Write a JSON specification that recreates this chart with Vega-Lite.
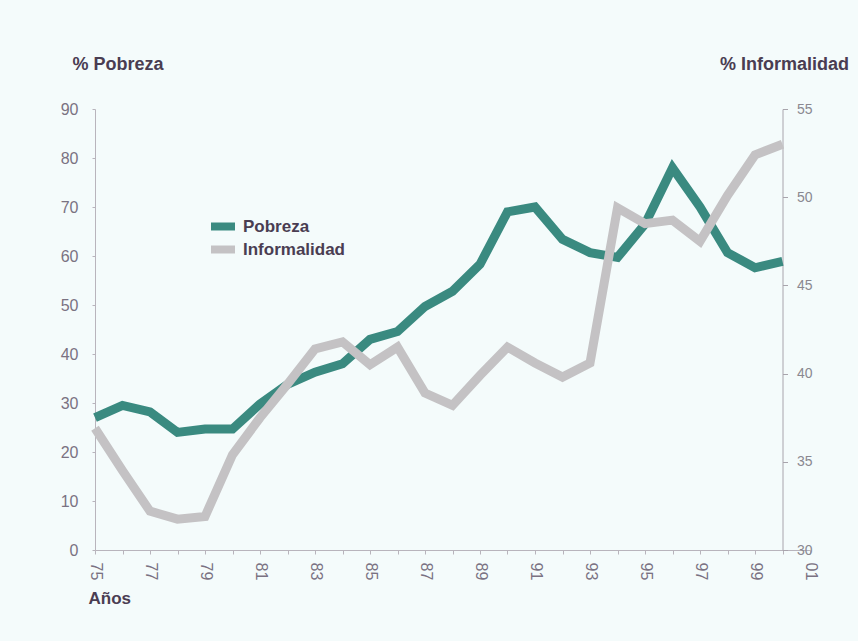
{
  "$schema": "https://vega.github.io/schema/vega-lite/v6.json",
  "autosize": "none",
  "width": 715,
  "height": 441,
  "padding": {"left": 95, "top": 109, "right": 48, "bottom": 91},
  "background": "#f4fbfb",
  "config": {
    "view": {"stroke": null},
    "font": "Liberation Sans",
    "axis": {"grid": false, "labelFlush": false, "labelOverlap": false}
  },
  "data": {
    "values": [
      {"year": 1975, "pobreza": 27.0, "informalidad": 36.9},
      {"year": 1976, "pobreza": 29.5, "informalidad": 34.5},
      {"year": 1977, "pobreza": 28.2, "informalidad": 32.2},
      {"year": 1978, "pobreza": 24.0, "informalidad": 31.75},
      {"year": 1979, "pobreza": 24.7, "informalidad": 31.9},
      {"year": 1980, "pobreza": 24.7, "informalidad": 35.4},
      {"year": 1981, "pobreza": 29.8, "informalidad": 37.5},
      {"year": 1982, "pobreza": 33.8, "informalidad": 39.4},
      {"year": 1983, "pobreza": 36.3, "informalidad": 41.4},
      {"year": 1984, "pobreza": 38.0, "informalidad": 41.8},
      {"year": 1985, "pobreza": 43.0, "informalidad": 40.5},
      {"year": 1986, "pobreza": 44.6, "informalidad": 41.5},
      {"year": 1987, "pobreza": 49.7, "informalidad": 38.9},
      {"year": 1988, "pobreza": 52.8, "informalidad": 38.2},
      {"year": 1989, "pobreza": 58.3, "informalidad": 39.9},
      {"year": 1990, "pobreza": 69.0, "informalidad": 41.5},
      {"year": 1991, "pobreza": 70.0, "informalidad": 40.6},
      {"year": 1992, "pobreza": 63.4, "informalidad": 39.8},
      {"year": 1993, "pobreza": 60.7, "informalidad": 40.6},
      {"year": 1994, "pobreza": 59.7, "informalidad": 49.4},
      {"year": 1995, "pobreza": 66.5, "informalidad": 48.5},
      {"year": 1996, "pobreza": 78.0, "informalidad": 48.7},
      {"year": 1997, "pobreza": 70.0, "informalidad": 47.5},
      {"year": 1998, "pobreza": 60.7, "informalidad": 50.1},
      {"year": 1999, "pobreza": 57.6, "informalidad": 52.4},
      {"year": 2000, "pobreza": 58.9, "informalidad": 53.0}
    ]
  },
  "encoding": {
    "x": {
      "field": "year",
      "type": "quantitative",
      "scale": {"domain": [1975, 2001], "nice": false, "zero": false},
      "axis": {
        "title": "Años",
        "titleFont": "Liberation Sans",
        "titleFontSize": 17,
        "titleFontWeight": "bold",
        "titleColor": "#4a3d52",
        "titleAlign": "left",
        "titleAnchor": "start",
        "titleX": -7,
        "titleY": 53,
        "titleBaseline": "alphabetic",
        "values": [1975,1976,1977,1978,1979,1980,1981,1982,1983,1984,1985,1986,1987,1988,1989,1990,1991,1992,1993,1994,1995,1996,1997,1998,1999,2000,2001],
        "labelExpr": "datum.value % 2 == 1 ? substring(toString(datum.value), 2) : ''",
        "labelAngle": 90,
        "labelAlign": "left",
        "labelBaseline": "middle",
        "labelFontSize": 16,
        "labelColor": "#7a7282",
        "labelPadding": 8,
        "tickSize": 4,
        "tickColor": "#b8b4bc",
        "domainColor": "#b8b4bc"
      }
    },
    "color": {
      "scale": {"domain": ["Pobreza", "Informalidad"], "range": ["#3a8a80", "#c4c2c4"]},
      "legend": {
        "title": null,
        "orient": "none",
        "legendX": 112,
        "legendY": 106,
        "symbolType": "stroke",
        "symbolSize": 576,
        "symbolStrokeWidth": 8,
        "clipHeight": 23,
        "labelFont": "Liberation Sans",
        "labelFontSize": 17,
        "labelFontWeight": "bold",
        "labelColor": "#4a3d52",
        "labelOffset": 4,
        "rowPadding": 0
      }
    }
  },
  "layer": [
    {
      "mark": {"type": "line", "strokeWidth": 9, "strokeJoin": "miter"},
      "encoding": {
        "y": {
          "field": "pobreza",
          "type": "quantitative",
          "scale": {"domain": [0, 90], "nice": false},
          "axis": {
            "orient": "left",
            "values": [0, 10, 20, 30, 40, 50, 60, 70, 80, 90],
            "title": "% Pobreza",
            "titleAngle": 0,
            "titleAlign": "left",
            "titleBaseline": "middle",
            "titleX": -23,
            "titleY": -45,
            "titleFont": "Liberation Sans",
            "titleFontSize": 18,
            "titleFontWeight": "bold",
            "titleColor": "#4a3d52",
            "labelFontSize": 16,
            "labelColor": "#7a7282",
            "labelPadding": 14,
            "tickSize": 3,
            "tickColor": "#b8b4bc",
            "domainColor": "#b8b4bc"
          }
        },
        "color": {"datum": "Pobreza"}
      }
    },
    {
      "mark": {"type": "line", "strokeWidth": 9, "strokeJoin": "miter"},
      "encoding": {
        "y": {
          "field": "informalidad",
          "type": "quantitative",
          "scale": {"domain": [30, 55], "nice": false, "zero": false},
          "axis": {
            "orient": "right",
            "offset": -27.5,
            "values": [30, 35, 40, 45, 50, 55],
            "title": "% Informalidad",
            "titleAngle": 0,
            "titleAlign": "right",
            "titleBaseline": "middle",
            "titleX": 66,
            "titleY": -45,
            "titleFont": "Liberation Sans",
            "titleFontSize": 18,
            "titleFontWeight": "bold",
            "titleColor": "#4a3d52",
            "labelFontSize": 14,
            "labelColor": "#8a8890",
            "labelPadding": 9,
            "tickSize": 5,
            "tickColor": "#a8a4ac",
            "domainColor": "#a8a4ac"
          }
        },
        "color": {"datum": "Informalidad"}
      }
    }
  ],
  "resolve": {"scale": {"y": "independent"}}
}
